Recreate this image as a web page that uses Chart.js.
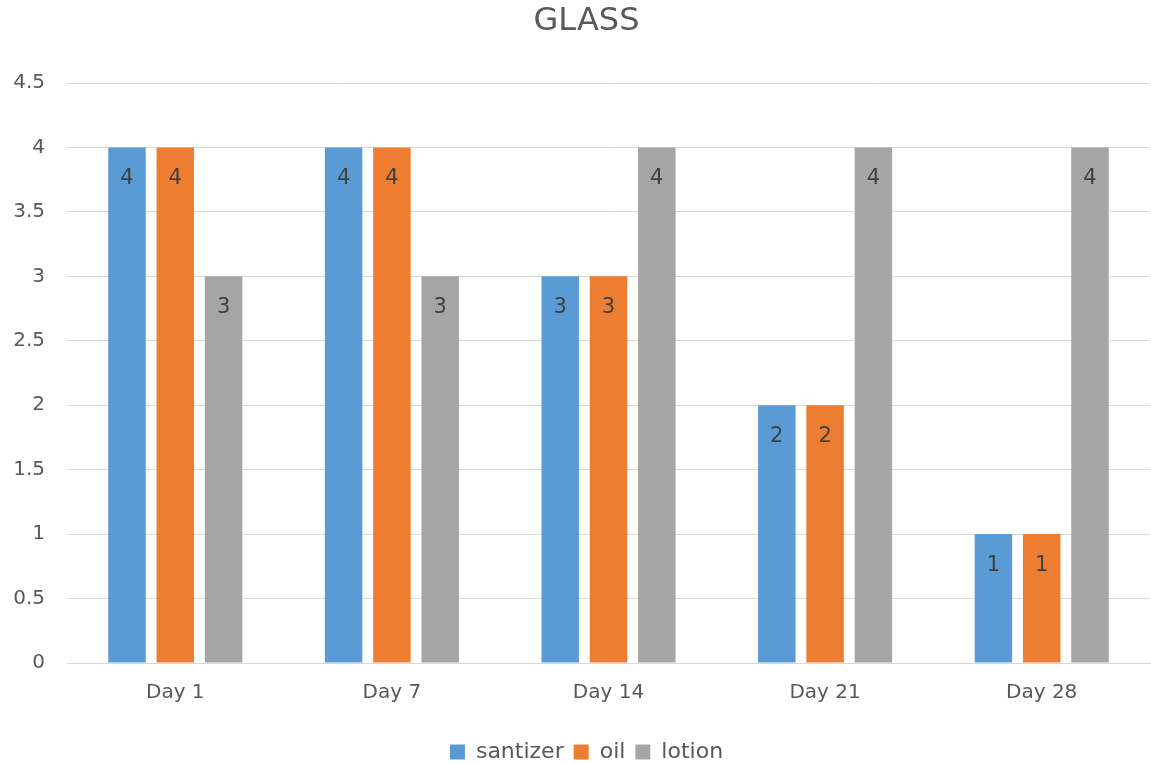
<!DOCTYPE html>
<html>
<head>
<meta charset="utf-8">
<script src="https://cdn.jsdelivr.net/npm/chart.js@4/dist/chart.umd.min.js"></script>
<style>
  html, body { margin: 0; padding: 0; background: #ffffff; }
  #wrap { width: 1151px; height: 765px; position: relative; }
</style>
</head>
<body>
<div id="wrap"><canvas id="chart" width="1151" height="765"></canvas></div>
<script>
// Chart content
const chartTitle = 'GLASS';
const categories = ['Day 1', 'Day 7', 'Day 14', 'Day 21', 'Day 28'];
const seriesNames = ['santizer', 'oil', 'lotion'];
const santizerValues = [4, 4, 3, 2, 1];
const oilValues = [4, 4, 3, 2, 1];
const lotionValues = [3, 3, 4, 4, 4];
const yTickValues = [0, 0.5, 1, 1.5, 2, 2.5, 3, 3.5, 4, 4.5];

const FONT = "'DejaVu Sans', 'Liberation Sans', sans-serif";
const TEXT = '#595959';

// Writes each bar's value just inside its top end
const barValueLabels = {
  id: 'barValueLabels',
  afterDatasetsDraw(chart) {
    const ctx = chart.ctx;
    ctx.save();
    ctx.font = "21px " + FONT;
    ctx.fillStyle = '#404040';
    ctx.textAlign = 'center';
    ctx.textBaseline = 'middle';
    chart.data.datasets.forEach((ds, i) => {
      const meta = chart.getDatasetMeta(i);
      meta.data.forEach((bar, j) => {
        ctx.fillText(String(ds.data[j]), bar.x, bar.y + 31);
      });
    });
    ctx.restore();
  }
};

// Centres the title and legend on the band right of the axis labels' margin
const headerFooterInset = {
  id: 'headerFooterInset',
  afterLayout(chart) {
    const inset = 23;
    if (chart.titleBlock) chart.titleBlock.left = inset;
    if (chart.legend) chart.legend.left = inset;
  }
};

new Chart(document.getElementById('chart'), {
  type: 'bar',
  data: {
    labels: categories,
    datasets: [
      { label: seriesNames[0], data: santizerValues, backgroundColor: '#5B9BD5' },
      { label: seriesNames[1], data: oilValues, backgroundColor: '#ED7D31' },
      { label: seriesNames[2], data: lotionValues, backgroundColor: '#A5A5A5' }
    ]
  },
  options: {
    responsive: false,
    animation: false,
    devicePixelRatio: 1,
    layout: { padding: { left: 0, right: 1, top: 0, bottom: -8 } },
    datasets: {
      bar: { categoryPercentage: 0.669, barPercentage: 0.776 }
    },
    plugins: {
      title: {
        display: true,
        text: chartTitle,
        color: TEXT,
        font: { family: FONT, size: 32, weight: 'normal' },
        padding: { top: 2, bottom: 42.6 }
      },
      legend: {
        position: 'bottom',
        labels: {
          color: TEXT,
          font: { family: FONT, size: 22 },
          boxWidth: 15,
          boxHeight: 15,
          padding: 10
        }
      },
      tooltip: { enabled: false }
    },
    scales: {
      x: {
        afterFit(scale) { scale.height = 68; },
        grid: { display: false, drawTicks: false },
        border: { display: true, color: '#d9d9d9', width: 1 },
        ticks: { color: TEXT, font: { family: FONT, size: 20 }, padding: 18 }
      },
      y: {
        min: 0,
        max: 4.5,
        afterBuildTicks(scale) {
          scale.ticks = yTickValues.map(v => ({ value: v }));
        },
        afterFit(scale) { scale.width = 67; },
        grid: { color: '#d9d9d9', drawTicks: false },
        border: { display: false },
        ticks: {
          color: TEXT,
          font: { family: FONT, size: 20 },
          padding: 22,
          callback: (value) => String(value)
        }
      }
    }
  },
  plugins: [barValueLabels, headerFooterInset]
});
</script>
</body>
</html>
